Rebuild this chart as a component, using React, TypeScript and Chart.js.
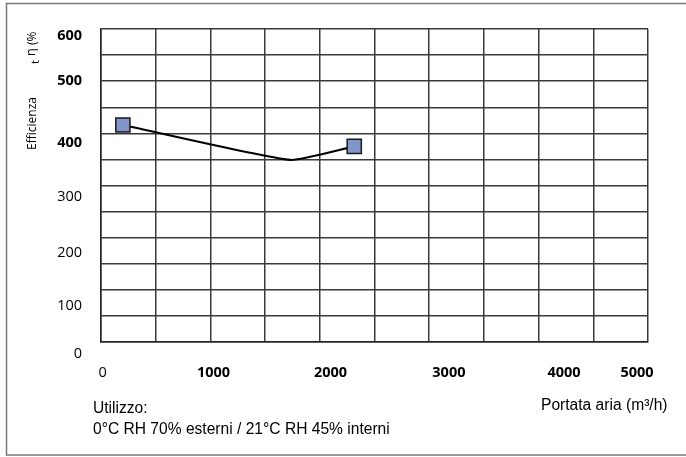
import React, { useEffect, useRef } from "react";
import { Chart, registerables } from "chart.js";

Chart.register(...registerables);

// Data
const flowValues = [200, 1730, 2315];
const efficiencyValues = [416, 349, 375];
const markerRadii = [10, 0, 10];

// Tick labels (text and where they sit, in data units)
const xTickLabels = ["0", "1000", "2000", "3000", "4000", "5000"];
const xTickLabelPos = [15, 1028, 2098, 3180, 4232, 4900];
const xTickBold = [false, true, true, true, true, true];
const yTickLabels = ["600", "500", "400", "300", "200", "100", "0"];
const yTickLabelPos = [587, 500, 382, 278, 171, 69, -23];
const yTickBold = [true, true, true, false, false, false, false];

const xTitle = "Portata aria (m³/h)";
const noteLines = ["Utilizzo:", "0°C RH 70% esterni / 21°C RH 45% interni"];

const decorPlugin = {
  id: "decor",
  beforeDraw(chart: any) {
    const ctx = chart.ctx;
    ctx.save();
    ctx.fillStyle = "#ffffff";
    ctx.fillRect(0, 0, chart.width, chart.height);
    ctx.strokeStyle = "#777777";
    ctx.lineWidth = 1.5;
    ctx.strokeRect(6.5, 3.5, chart.width + 20, chart.height - 5.5);
    ctx.restore();
  },
  afterDraw(chart: any) {
    const ctx = chart.ctx;
    const xs = chart.scales.x;
    const ys = chart.scales.y;
    const area = chart.chartArea;
    ctx.save();
    ctx.fillStyle = "#000000";
    ctx.textBaseline = "middle";
    // y tick labels
    ctx.textAlign = "right";
    yTickLabels.forEach((t, i) => {
      ctx.font = (yTickBold[i] ? "bold " : "") + "14.5px 'Open Sans'";
      ctx.fillText(t, area.left - 19, ys.getPixelForValue(yTickLabelPos[i]));
    });
    // x tick labels
    ctx.textAlign = "center";
    xTickLabels.forEach((t, i) => {
      ctx.font = (xTickBold[i] ? "bold " : "") + "14.5px 'Open Sans'";
      ctx.fillText(t, xs.getPixelForValue(xTickLabelPos[i]), area.bottom + 31);
    });
    // x title and notes
    ctx.textBaseline = "alphabetic";
    ctx.textAlign = "left";
    ctx.font = "15.6px 'Liberation Sans'";
    ctx.fillText(xTitle, 541, 410);
    ctx.fillText(noteLines[0], 93, 413);
    ctx.fillText(noteLines[1], 93, 434);
    // y title (rotated)
    ctx.translate(36, 150);
    ctx.rotate(-Math.PI / 2);
    ctx.font = "12px 'Open Sans'";
    ctx.fillText("Efficienza", 0, 0);
    ctx.font = "11.5px 'Open Sans'";
    ctx.fillText("t", 86, 2.5);
    ctx.font = "12.5px 'Open Sans'";
    ctx.fillText("η", 94, -1);
    ctx.font = "12px 'Open Sans'";
    ctx.fillText("(%", 105, 0);
    ctx.restore();
  },
};

export default function App() {
  const ref = useRef<HTMLCanvasElement>(null);
  useEffect(() => {
    if (!ref.current) return;
    const chart = new Chart(ref.current, {
      type: "line",
      data: {
        datasets: [
          {
            data: flowValues.map((x, i) => ({ x, y: efficiencyValues[i] })),
            borderColor: "#000000",
            borderWidth: 2.2,
            tension: 0.15,
            pointStyle: "rect",
            pointRadius: markerRadii,
            pointHoverRadius: markerRadii,
            pointBackgroundColor: "#8096c8",
            pointBorderColor: "#1a1a1a",
            pointBorderWidth: 1.5,
          },
        ],
      },
      options: {
        responsive: false,
        animation: false,
        layout: { padding: { left: 101, right: 38, top: 29, bottom: 115 } },
        plugins: { legend: { display: false }, tooltip: { enabled: false } },
        scales: {
          x: {
            type: "linear",
            min: 0,
            max: 5000,
            ticks: { display: false, stepSize: 500 },
            grid: { color: "#3a3a3a", lineWidth: 1.5, drawTicks: false },
            border: { display: true, color: "#222222", width: 1.5 },
          },
          y: {
            type: "linear",
            min: 0,
            max: 600,
            ticks: { display: false, stepSize: 50 },
            grid: { color: "#3a3a3a", lineWidth: 1.5, drawTicks: false },
            border: { display: true, color: "#222222", width: 1.5 },
          },
        },
      },
      plugins: [decorPlugin],
    });
    return () => chart.destroy();
  }, []);
  return (
    <div style={{ position: "fixed", left: 0, top: 0, width: 686, height: 457 }}>
      <canvas ref={ref} width={686} height={457} style={{ display: "block" }} />
    </div>
  );
}
